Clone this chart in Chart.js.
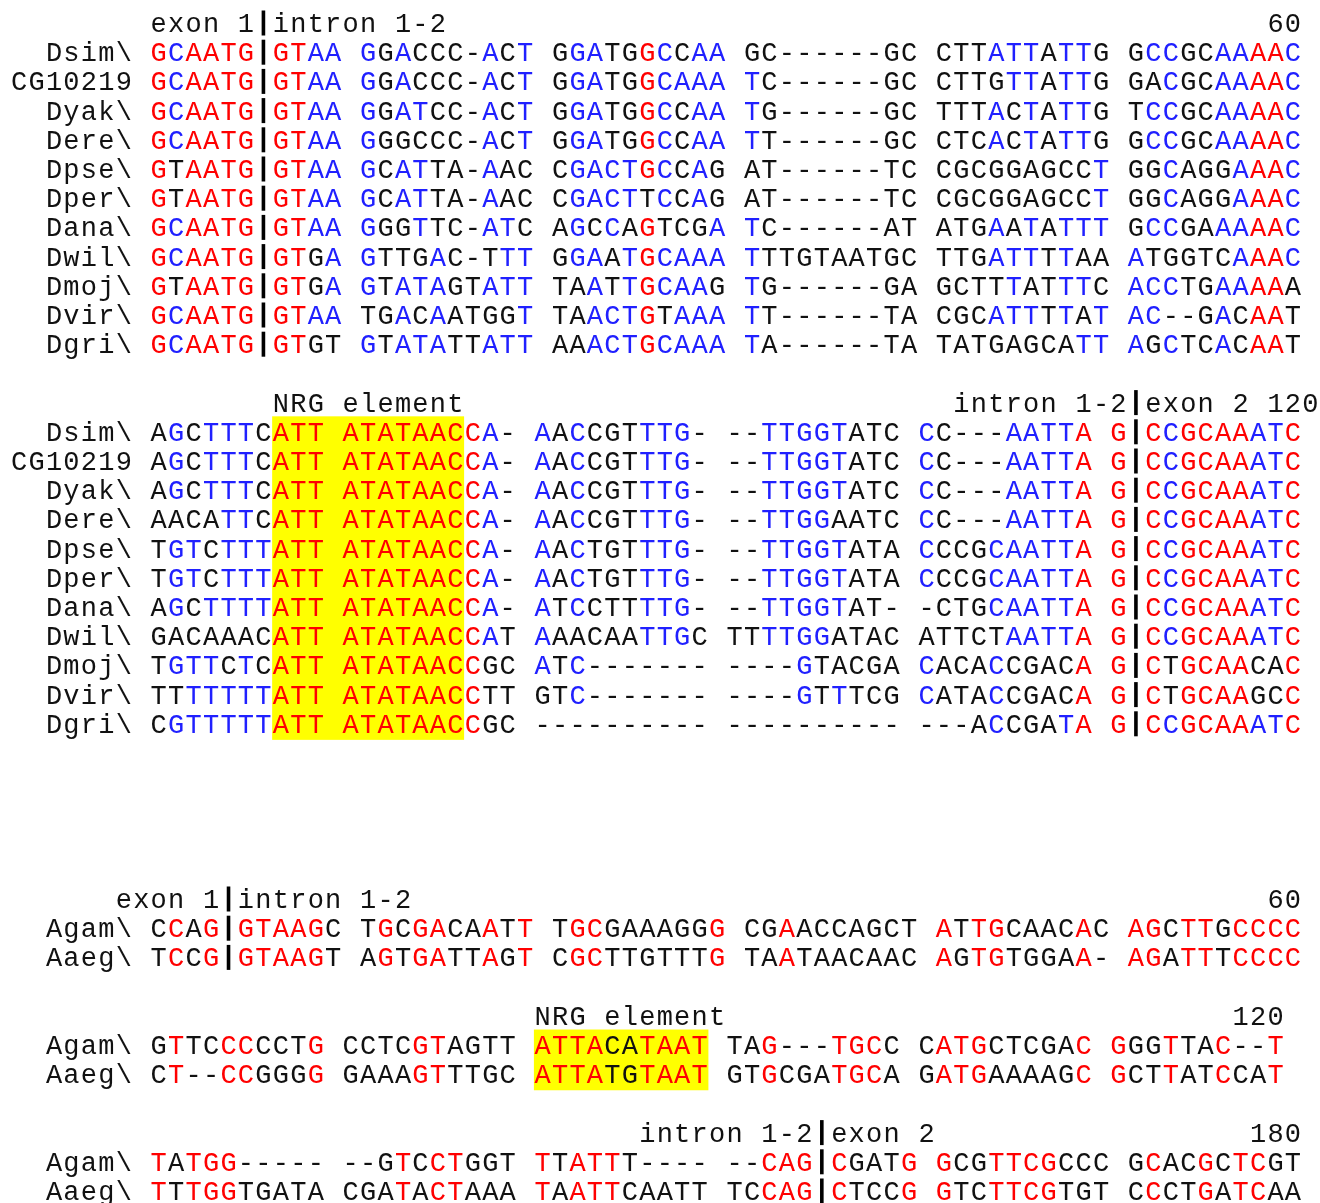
<!DOCTYPE html>
<html>
<head>
<meta charset="utf-8">
<title>CG10219 intron 1-2 alignment</title>
<script src="https://cdn.jsdelivr.net/npm/chart.js"></script>
<style>
  html, body { margin: 0; padding: 0; background: #fff; }
  #wrap { width: 1320px; height: 1203px; position: relative; }
</style>
</head>
<body>
<div id="wrap"><canvas id="alignChart"></canvas></div>
<script>
// ---- Drosophila alignment ----
const droSpecies = ["Dsim\\", "CG10219", "Dyak\\", "Dere\\", "Dpse\\", "Dper\\", "Dana\\", "Dwil\\", "Dmoj\\", "Dvir\\", "Dgri\\"];
// close relatives share weight (mel subgroup, obscura group)
const droWeights = [0.25, 0.25, 0.25, 0.25, 0.5, 0.5, 1, 1, 1, 1, 1];

const droPart1 = [
  "GCAATG|GTAA GGACCC-ACT GGATGGCCAA GC------GC CTTATTATTG GCCGCAAAAC",
  "GCAATG|GTAA GGACCC-ACT GGATGGCAAA TC------GC CTTGTTATTG GACGCAAAAC",
  "GCAATG|GTAA GGATCC-ACT GGATGGCCAA TG------GC TTTACTATTG TCCGCAAAAC",
  "GCAATG|GTAA GGGCCC-ACT GGATGGCCAA TT------GC CTCACTATTG GCCGCAAAAC",
  "GTAATG|GTAA GCATTA-AAC CGACTGCCAG AT------TC CGCGGAGCCT GGCAGGAAAC",
  "GTAATG|GTAA GCATTA-AAC CGACTTCCAG AT------TC CGCGGAGCCT GGCAGGAAAC",
  "GCAATG|GTAA GGGTTC-ATC AGCCAGTCGA TC------AT ATGAATATTT GCCGAAAAAC",
  "GCAATG|GTGA GTTGAC-TTT GGAATGCAAA TTTGTAATGC TTGATTTTAA ATGGTCAAAC",
  "GTAATG|GTGA GTATAGTATT TAATTGCAAG TG------GA GCTTTATTTC ACCTGAAAAA",
  "GCAATG|GTAA TGACAATGGT TAACTGTAAA TT------TA CGCATTTTAT AC--GACAAT",
  "GCAATG|GTGT GTATATTATT AAACTGCAAA TA------TA TATGAGCATT AGCTCACAAT"
];

const droPart2 = [
  "AGCTTTCATT ATATAACCA- AACCGTTTG- --TTGGTATC CC---AATTA G|CCGCAAATC",
  "AGCTTTCATT ATATAACCA- AACCGTTTG- --TTGGTATC CC---AATTA G|CCGCAAATC",
  "AGCTTTCATT ATATAACCA- AACCGTTTG- --TTGGTATC CC---AATTA G|CCGCAAATC",
  "AACATTCATT ATATAACCA- AACCGTTTG- --TTGGAATC CC---AATTA G|CCGCAAATC",
  "TGTCTTTATT ATATAACCA- AACTGTTTG- --TTGGTATA CCCGCAATTA G|CCGCAAATC",
  "TGTCTTTATT ATATAACCA- AACTGTTTG- --TTGGTATA CCCGCAATTA G|CCGCAAATC",
  "AGCTTTTATT ATATAACCA- ATCCTTTTG- --TTGGTAT- -CTGCAATTA G|CCGCAAATC",
  "GACAAACATT ATATAACCAT AAACAATTGC TTTTGGATAC ATTCTAATTA G|CCGCAAATC",
  "TGTTCTCATT ATATAACCGC ATC------- ----GTACGA CACACCGACA G|CTGCAACAC",
  "TTTTTTTATT ATATAACCTT GTC------- ----GTTTCG CATACCGACA G|CTGCAAGCC",
  "CGTTTTTATT ATATAACCGC ---------- ---------- ---ACCGATA G|CCGCAAATC"
];

// ---- Anopheles / Aedes alignment ----
const anoSpecies = ["Agam\\", "Aaeg\\"];
const anoWeights = [1, 1];

const anoPart1 = [
  "CCAG|GTAAGC TGCGACAATT TGCGAAAGGG CGAACCAGCT ATTGCAACAC AGCTTGCCCC",
  "TCCG|GTAAGT AGTGATTAGT CGCTTGTTTG TAATAACAAC AGTGTGGAA- AGATTTCCCC"
];
const anoPart2 = [
  "GTTCCCCCTG CCTCGTAGTT ATTACATAAT TAG---TGCC CATGCTCGAC GGGTTAC--T",
  "CT--CCGGGG GAAAGTTTGC ATTATGTAAT GTGCGATGCA GATGAAAAGC GCTTATCCAT"
];
const anoPart3 = [
  "TATGG----- --GTCCTGGT TTATTT---- --CAG|CGATG GCGTTCGCCC GCACGCTCGT",
  "TTTGGTGATA CGATACTAAA TAATTCAATT TCCAG|CTCCG GTCTTCGTGT CCCTGATCAA"
];

// labels above the blocks
const spliceLabel = "exon 1|intron 1-2";
const spliceLabel2 = "intron 1-2|exon 2";
const nrgLabel = "NRG element";
const posTicks = ["60", "120", "60", "120", "180"];
// NRG element columns [from, to)
const droNrg = [7, 18];
const anoNrg = [22, 32];

// ---- layout ----
const CELL = 17.45, LINE = 29.2, X0 = 150, Y0 = 23;
const W = 1320, H = 1203;

const blocks = [
  { names: droSpecies, seqs: droPart1, weights: droWeights, blueMin: 0.5, line: 0,
    notes: [{ text: spliceLabel, onBar: true }, { text: posTicks[0], right: true }] },
  { names: droSpecies, seqs: droPart2, weights: droWeights, blueMin: 0.5, line: 13, nrg: droNrg,
    notes: [{ text: nrgLabel, at: droNrg[0] }, { text: spliceLabel2 + " " + posTicks[1], onBar: true }] },
  { names: anoSpecies, seqs: anoPart1, weights: anoWeights, blueMin: 2, line: 30,
    notes: [{ text: spliceLabel, onBar: true }, { text: posTicks[2], right: true }] },
  { names: anoSpecies, seqs: anoPart2, weights: anoWeights, blueMin: 2, line: 34, nrg: anoNrg,
    notes: [{ text: nrgLabel, at: anoNrg[0] }, { text: posTicks[3], right: true }] },
  { names: anoSpecies, seqs: anoPart3, weights: anoWeights, blueMin: 2, line: 38,
    notes: [{ text: spliceLabel2, onBar: true }, { text: posTicks[4], right: true }] }
];

// conservation shading: r = (nearly) invariant, b = matches weighted majority, k = other
function shade(seqs, weights, blueMin) {
  const len = Math.max(...seqs.map(s => s.length));
  const out = seqs.map(() => []);
  for (let c = 0; c < len; c++) {
    const tally = {};
    let total = 0;
    seqs.forEach((s, r) => {
      const ch = s[c] || " ";
      tally[ch] = (tally[ch] || 0) + weights[r];
      total += weights[r];
    });
    let top = null, topW = 0;
    for (const k in tally) if (tally[k] > topW) { top = k; topW = tally[k]; }
    const frac = topW / total;
    seqs.forEach((s, r) => {
      const ch = s[c];
      let tone = "k";
      if (/[ACGT]/.test(ch) && ch === top) {
        if (frac >= 0.9 - 1e-9) tone = "r";
        else if (frac >= blueMin - 1e-9) tone = "b";
      }
      out[r].push(tone);
    });
  }
  return out;
}

const points = [];
const spans = [];
function putText(text, col, line, tones) {
  for (let i = 0; i < text.length; i++) {
    const ch = text[i];
    if (ch === " ") continue;
    points.push({ x: col + i + 0.5, y: line, ch: ch, tone: ch === "|" ? "bar" : (tones ? tones[i] : "k") });
  }
}

blocks.forEach(b => {
  const tones = shade(b.seqs, b.weights, b.blueMin);
  const barCol = b.seqs[0].indexOf("|");
  const endCol = Math.max(...b.seqs.map(s => s.length));
  b.notes.forEach(n => {
    let col;
    if (n.onBar) col = barCol - n.text.indexOf("|");
    else if (n.right) col = endCol - n.text.length;
    else col = n.at;
    putText(n.text, col, b.line);
  });
  b.seqs.forEach((s, r) => {
    const name = b.names[r];
    putText(name, -1 - name.length, b.line + 1 + r);
    putText(s, 0, b.line + 1 + r, tones[r]);
  });
  if (b.nrg) spans.push({ from: b.nrg[0], to: b.nrg[1], top: b.line + 1, bottom: b.line + b.seqs.length });
});

const toneColor = { k: "#111111", r: "#ff0000", b: "#2020ff" };

const alignText = {
  id: "alignText",
  beforeDatasetsDraw(chart) {
    const { ctx, scales: { x, y } } = chart;
    ctx.save();
    ctx.fillStyle = "#ffff00";
    spans.forEach(s => {
      const x1 = x.getPixelForValue(s.from), x2 = x.getPixelForValue(s.to);
      const y1 = y.getPixelForValue(s.top - 0.53), y2 = y.getPixelForValue(s.bottom + 0.55);
      ctx.fillRect(x1, y1, x2 - x1, y2 - y1);
    });
    ctx.restore();
  },
  afterDatasetsDraw(chart) {
    const ctx = chart.ctx;
    const meta = chart.getDatasetMeta(0);
    const raw = chart.data.datasets[0].data;
    ctx.save();
    ctx.font = '27px "Liberation Mono", "DejaVu Sans Mono", monospace';
    ctx.textAlign = "center";
    ctx.textBaseline = "alphabetic";
    meta.data.forEach((el, i) => {
      const p = raw[i];
      if (p.tone === "bar") {
        ctx.fillStyle = "#000";
        ctx.fillRect(el.x - 1.8, el.y - 12.5, 3.6, 25);
      } else {
        ctx.fillStyle = toneColor[p.tone];
        ctx.fillText(p.ch, el.x, el.y + 9);
      }
    });
    ctx.restore();
  }
};

new Chart(document.getElementById("alignChart"), {
  type: "scatter",
  data: { datasets: [{ data: points, pointRadius: 0, pointHoverRadius: 0, clip: false }] },
  options: {
    responsive: true,
    maintainAspectRatio: false,
    animation: false,
    events: [],
    layout: { padding: 0 },
    plugins: { legend: { display: false }, tooltip: { enabled: false } },
    scales: {
      x: { type: "linear", display: false, min: -X0 / CELL, max: (W - X0) / CELL },
      y: { type: "linear", display: false, reverse: true, min: -Y0 / LINE, max: (H - Y0) / LINE }
    }
  },
  plugins: [alignText]
});
</script>
</body>
</html>
